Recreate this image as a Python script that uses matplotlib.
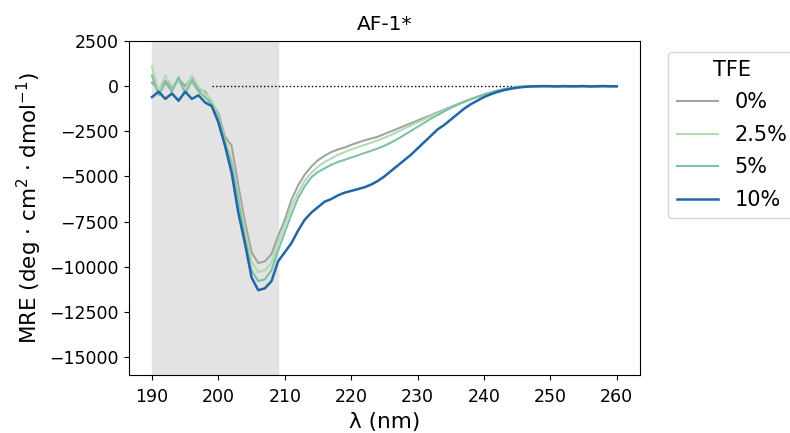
import numpy as np
import matplotlib
matplotlib.use('Agg')
import matplotlib.pyplot as plt

# wavelength (nm), 1 nm steps
wl = np.arange(190, 261)

# mean residue ellipticity for each TFE concentration
mre_0 = [200, -200, 300, -100, 400, 0, 500, -200, -300, -900,
         -1500, -2800, -3300, -5500, -7500, -9200, -9800, -9700, -9300, -8300,
         -7400, -6300, -5500, -4900, -4450, -4100, -3850, -3650, -3500, -3400,
         -3250, -3120, -3000, -2900, -2800, -2650, -2500, -2350, -2200, -2050,
         -1900, -1750, -1600, -1450, -1300, -1150, -1000, -850, -720, -600,
         -480, -370, -270, -180, -110, -60, -30, -10, 10, 0,
         20, 0, 10, -10, 0, 10, 0, -10, 10, 0, 0]
mre_25 = [1100, -300, 600, 0, 300, -200, 600, 0, -400, -800,
          -1700, -3000, -4000, -6000, -8000, -9700, -10300, -10200, -9800, -8700,
          -7700, -6700, -5900, -5250, -4800, -4450, -4200, -4000, -3800, -3650,
          -3500, -3380, -3250, -3130, -3000, -2850, -2700, -2530, -2350, -2180,
          -2000, -1830, -1660, -1500, -1350, -1180, -1020, -870, -730, -600,
          -470, -350, -250, -170, -100, -50, -20, 0, 10, -10,
          10, 0, -10, 10, 0, -10, 0, 10, 0, 0, 0]
mre_5 = [600, -500, 200, -300, 500, -400, 300, -300, -600, -1000,
         -1800, -3100, -4300, -6300, -8400, -10200, -10800, -10700, -10200, -9100,
         -8100, -7100, -6200, -5550, -5050, -4750, -4550, -4350, -4200, -4080,
         -3950, -3830, -3700, -3580, -3450, -3300, -3120, -2920, -2700, -2480,
         -2250, -2030, -1800, -1600, -1400, -1200, -1030, -870, -720, -580,
         -450, -340, -240, -160, -100, -50, -20, 0, -10, 10,
         0, 10, -10, 0, 10, 0, -10, 0, 10, 0, 0]
mre_10 = [-600, -300, -700, -400, -800, -300, -700, -500, -900, -1100,
          -2000, -3300, -4800, -7000, -8700, -10600, -11300, -11200, -10800, -9700,
          -9200, -8700, -8000, -7400, -7000, -6700, -6400, -6250, -6050, -5900,
          -5800, -5700, -5600, -5450, -5250, -5000, -4700, -4400, -4100, -3800,
          -3450, -3100, -2750, -2400, -2150, -1850, -1550, -1250, -1000, -800,
          -600, -450, -320, -220, -140, -80, -40, -10, 0, 10,
          0, -10, 10, 0, 0, 10, -10, 0, 10, 0, 0]

labels = ['0%', '2.5%', '5%', '10%']
colors = ['#a3a3a3', '#b2dbb0', '#7fc0ab', '#2166a6']
widths = [1.5, 1.5, 1.5, 1.8]

fig = plt.figure(figsize=(7.9, 4.33), dpi=100)
ax = fig.add_axes([0.163, 0.134, 0.647, 0.771])

# shaded region below 209 nm
ax.axvspan(190, 209, color='#e3e3e3', zorder=0)
ax.plot([199, 260], [0, 0], 'k:', lw=1, zorder=1)

for y, lab, c, w in zip([mre_0, mre_25, mre_5, mre_10], labels, colors, widths):
    ax.plot(wl, y, color=c, lw=w, label=lab, zorder=2)

ax.set_xlim(186.5, 263.5)
ax.set_ylim(-16000, 2500)
ax.set_xticks(np.arange(190, 261, 10))
ax.set_yticks(np.arange(-15000, 2501, 2500))
ax.tick_params(labelsize=12.5)
ax.tick_params(axis='x', pad=6)
ax.set_xlabel('λ (nm)', fontsize=15.5, labelpad=4)
ax.set_ylabel('MRE (deg · cm$^2$ · dmol$^{-1}$)', fontsize=15.5)
ax.set_title('AF-1*', fontsize=14.5, pad=8)

ax.legend(title='TFE', loc='upper left', bbox_to_anchor=(1.035, 1.0),
          fontsize=15, title_fontsize=15, labelspacing=0.6)

fig.savefig('out.png', dpi=100)
